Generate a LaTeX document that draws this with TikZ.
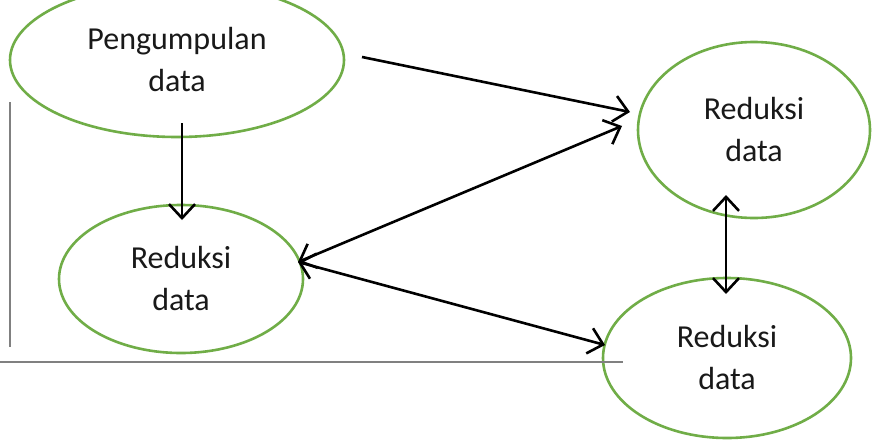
\documentclass[tikz,border=0pt]{standalone}
\usepackage{fontspec}
\setmainfont{Carlito}
\usetikzlibrary{arrows.meta,shapes.geometric}
\definecolor{ogreen}{RGB}{112,173,71}
\definecolor{lgray}{RGB}{128,128,128}
\tikzset{
  oval/.style={draw=ogreen, line width=2.6pt, ellipse, inner sep=0pt, align=center,
    font=\fontsize{32}{42}\selectfont, text=black!90},
  conn/.style={line width=2.6pt, black},
  tip/.style={-{Straight Barb[length=14pt,width=26pt,line width=2.6pt]}},
  dtip/.style={{Straight Barb[length=14pt,width=26pt,line width=2.6pt]}-{Straight Barb[length=14pt,width=26pt,line width=2.6pt]}},
  rule/.style={line width=2.4pt, lgray}
}
\begin{document}
\begin{tikzpicture}[x=1pt,y=-1pt]
\clip (0,0) rectangle (872,442);
\fill[white] (0,0) rectangle (872,442);
\node[oval, minimum width=334pt, minimum height=154pt] (p) at (177,60) {Pengumpulan\\data};
\node[oval, minimum width=244pt, minimum height=148pt] (r2) at (181,279) {Reduksi\\data};
\node[oval, minimum width=232pt, minimum height=176pt] (r1) at (754,130) {Reduksi\\data};
\node[oval, minimum width=248pt, minimum height=160pt] (r3) at (727,358) {Reduksi\\data};
\coordinate (a1s) at (362,57);
\coordinate (a1e) at (630,112);
\coordinate (l2) at (298,262);
\coordinate (r1w) at (622,126);
\coordinate (r3w) at (605,345);
\coordinate (ds) at (182,123);
\coordinate (de) at (182,220);
\coordinate (vs) at (726,195);
\coordinate (ve) at (726,294);
\coordinate (v1) at (10,102);
\coordinate (v2) at (10,347);
\coordinate (h1) at (0,362);
\coordinate (h2) at (623,362);
\draw[rule] (v1) -- (v2);
\draw[rule] (h1) -- (h2);
\draw[conn, tip] (a1s) -- (a1e);
\draw[conn, dtip] (l2) -- (r1w);
\draw[conn, dtip] (l2) -- (r3w);
\draw[conn, tip] (ds) -- (de);
\draw[conn, dtip] (vs) -- (ve);
\end{tikzpicture}
\end{document}
